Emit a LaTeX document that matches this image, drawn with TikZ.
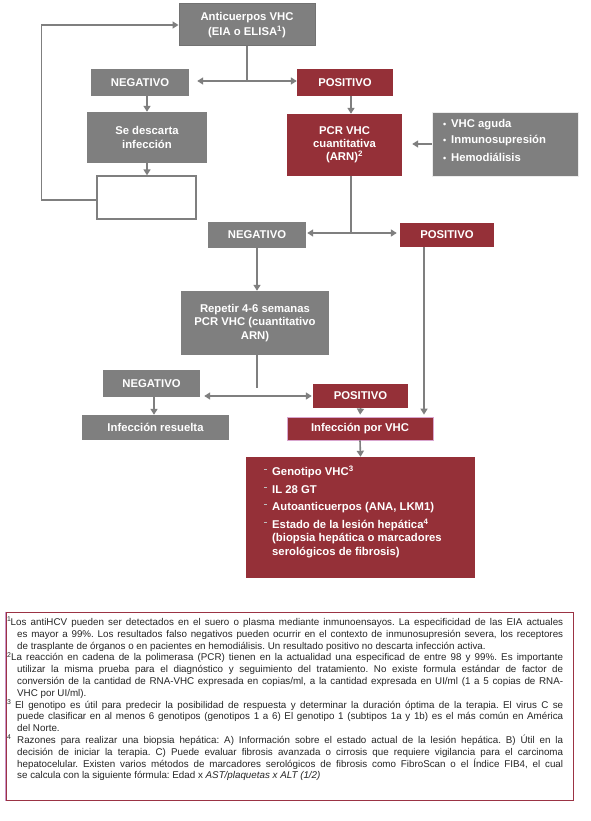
\documentclass[tikz,border=0pt]{standalone}
\usepackage{fontspec}
\setmainfont{Liberation Sans}
\usetikzlibrary{arrows.meta,calc}
\definecolor{gbox}{HTML}{7F7F7F}
\definecolor{gdark}{HTML}{727272}
\definecolor{rbox}{HTML}{953038}
\definecolor{pinkb}{HTML}{D9A6CF}
\definecolor{fred}{HTML}{9B3344}
\definecolor{fpurple}{HTML}{C995C9}
\definecolor{ftext}{HTML}{262626}
\definecolor{dashc}{HTML}{BFBFBF}
\newcommand{\dashbul}{\llap{\textcolor{dashc}{\raisebox{6pt}{\rule{3pt}{0.7pt}}}\hspace{5pt}}}
\newcommand{\sidebul}{\makebox[8pt][l]{\fontsize{9}{9}\selectfont •}}
\begin{document}
\begin{tikzpicture}[x=1pt,y=-1pt,
  box/.style={text=white, font=\bfseries\fontsize{11.3}{13.5}\selectfont, align=center, inner sep=0pt, anchor=center},
  gb/.style={box, fill=gbox},
  rb/.style={box, fill=rbox},
  lbl/.style={text=white, font=\bfseries\fontsize{11.3}{13.5}\selectfont, anchor=west, inner sep=0pt},
  conn/.style={draw=gbox, line width=1.6pt},
  arr/.style={conn, -{Triangle[length=6pt,width=7pt]}},
  darr/.style={conn, {Triangle[length=6pt,width=7pt]}-{Triangle[length=6pt,width=7pt]}},
]
\useasboundingbox (0,0) rectangle (590,821);
\fill[white] (0,0) rectangle (590,821);

% boxes
\node[gb, draw=gdark, line width=1pt, minimum width=136pt, minimum height=42pt, font=\bfseries\fontsize{11.3}{14.5}\selectfont] (anti) at (247,25) {Anticuerpos VHC\\(EIA o ELISA\textsuperscript{1})};
\node[gb, minimum width=98pt, minimum height=27pt] (neg1) at (140,82.5) {NEGATIVO};
\node[rb, minimum width=96pt, minimum height=27pt] (pos1) at (345,82.5) {POSITIVO};
\node[gb, minimum width=120pt, minimum height=51pt] (desc) at (147,137.5) {Se descarta\\infección};
\node[draw=gbox, line width=1.3pt, fill=white, minimum width=99pt, minimum height=43pt, inner sep=0pt] (white) at (146.5,197.5) {};
\node[rb, minimum width=115pt, minimum height=62pt, font=\bfseries\fontsize{11.3}{12.8}\selectfont] (pcr) at (344.5,145) {PCR VHC\\cuantitativa\\(ARN)\textsuperscript{2}};
\node[gb, draw=white!85!gray, line width=0.8pt, minimum width=146pt, minimum height=64pt] (side) at (505,144) {};
\node[lbl] (s1) at (443,125) {\sidebul VHC aguda};
\node[lbl] (s2) at (443,141) {\sidebul Inmunosupresión};
\node[lbl] (s3) at (443,157) {\sidebul Hemodiálisis};
\node[gb, minimum width=98pt, minimum height=26pt] (neg2) at (257,235) {NEGATIVO};
\node[rb, minimum width=94pt, minimum height=24pt] (pos2) at (447,235) {POSITIVO};
\node[gb, minimum width=148pt, minimum height=64pt] (rep) at (255,323) {Repetir 4-6 semanas\\PCR VHC (cuantitativo\\ARN)};
\node[gb, minimum width=97pt, minimum height=27pt] (neg3) at (151.5,383.5) {NEGATIVO};
\node[rb, minimum width=95pt, minimum height=24pt] (pos3) at (360.5,396) {POSITIVO};
\node[gb, minimum width=147pt, minimum height=25pt] (res) at (155.5,427.5) {Infección resuelta};
\node[rb, draw=pinkb, line width=0.8pt, minimum width=146pt, minimum height=23pt] (inf) at (360,428.5) {Infección por VHC};
\node[rb, minimum width=229pt, minimum height=121pt] (big) at (360.5,517.5) {};
\node[lbl] (b1) at (272,472) {\dashbul Genotipo VHC\textsuperscript{3}};
\node[lbl] (b2) at (272,490) {\dashbul IL 28 GT};
\node[lbl] (b3) at (272,508) {\dashbul Autoanticuerpos (ANA, LKM1)};
\node[lbl] (b4) at (272,525) {\dashbul Estado de la lesión hepática\textsuperscript{4}};
\node[lbl] (b5) at (272,539) {(biopsia hepática o marcadores};
\node[lbl] (b6) at (272,553) {serológicos de fibrosis)};

% guide coordinates
\coordinate (j1) at (247,81);
\coordinate (c1) at (351,0);
\coordinate (j2) at (351,233);
\coordinate (c2) at (257,0);
\coordinate (j3) at (257,388);
\coordinate (h3) at (257,396);
\coordinate (c3) at (154,0);
\coordinate (c4) at (424,0);

% connectors
\draw[conn] (anti.south) -- (j1);
\draw[arr, shorten >=8pt] (j1) -- (j1 -| neg1.east);
\draw[arr] (j1) -- (j1 -| pos1.west);
\draw[arr] (desc.north |- neg1.south) -- (desc.north);
\draw[arr] (desc.south) -- (desc.south |- white.north);
\draw[arr] ([yshift=-2.5pt]white.west) -- ++(-55,0) |- (anti.west);
\draw[arr] (c1 |- pos1.south) -- (c1 |- pcr.north);
\draw[arr, shorten >=10pt] (side.west) -- (side.west -| pcr.east);
\draw[conn] (c1 |- pcr.south) -- (j2);
\draw[arr, shorten >=1pt] (j2) -- (j2 -| neg2.east);
\draw[arr, shorten >=3pt] (j2) -- (j2 -| pos2.west);
\draw[arr] (c2 |- neg2.south) -- (c2 |- rep.north);
\draw[conn] (c2 |- rep.south) -- (j3);
\draw[darr, shorten <=4pt, shorten >=1pt] (h3 -| neg3.east) -- (h3 -| pos3.west);
\draw[arr] (c3 |- neg3.south) -- (c3 |- res.north);
\draw[arr, shorten >=2pt] (pos3.south) -- (inf.north);
\draw[arr, shorten >=2pt] (c4 |- pos2.south) -- (c4 |- inf.north);
\draw[arr] (inf.south) -- (big.north);

% footnotes
\node[draw=fred, line width=1pt, minimum width=567pt, minimum height=188pt, inner sep=0pt] (frame) at (289.5,706) {};
\draw[fpurple, line width=1.2pt] (frame.north west) -- (frame.south west);
\node[anchor=north west, text width=556pt, inner sep=0pt, align=justify, text=ftext,
      font=\fontsize{9.8}{11.8}\selectfont] (notes) at (7,617) {\frenchspacing%
\hangindent=10pt\hangafter=1\noindent\makebox[3.5pt][l]{\textsuperscript{1}}Los antiHCV pueden ser detectados en el suero o plasma mediante inmunoensayos. La especificidad de las EIA actuales\linebreak
es mayor a 99\%. Los resultados falso negativos pueden ocurrir en el contexto de inmunosupresión severa, los receptores\linebreak
de trasplante de órganos o en pacientes en hemodiálisis. Un resultado positivo no descarta infección activa.\par
\hangindent=10pt\hangafter=1\noindent\makebox[4pt][l]{\textsuperscript{2}}La reacción en cadena de la polimerasa (PCR) tienen en la actualidad una especificad de entre 98 y 99\%. Es importante\linebreak
utilizar la misma prueba para el diagnóstico y seguimiento del tratamiento. No existe formula estándar de factor de\linebreak
conversión de la cantidad de RNA-VHC expresada en copias/ml, a la cantidad expresada en UI/ml (1 a 5 copias de RNA-\linebreak
VHC por UI/ml).\par
\hangindent=10pt\hangafter=1\noindent\makebox[8pt][l]{\textsuperscript{3}}El genotipo es útil para predecir la posibilidad de respuesta y determinar la duración óptima de la terapia. El virus C se\linebreak
puede clasificar en al menos 6 genotipos (genotipos 1 a 6) El genotipo 1 (subtipos 1a y 1b) es el más común en América\linebreak
del Norte.\par
\hangindent=10pt\hangafter=1\noindent\makebox[10pt][l]{\textsuperscript{4}}Razones para realizar una biopsia hepática: A) Información sobre el estado actual de la lesión hepática. B) Útil en la\linebreak
decisión de iniciar la terapia. C) Puede evaluar fibrosis avanzada o cirrosis que requiere vigilancia para el carcinoma\linebreak
hepatocelular. Existen varios métodos de marcadores serológicos de fibrosis como FibroScan o el Índice FIB4, el cual\linebreak
se calcula con la siguiente fórmula: Edad x \textit{AST/plaquetas x ALT (1/2)}\par};
\end{tikzpicture}
\end{document}
